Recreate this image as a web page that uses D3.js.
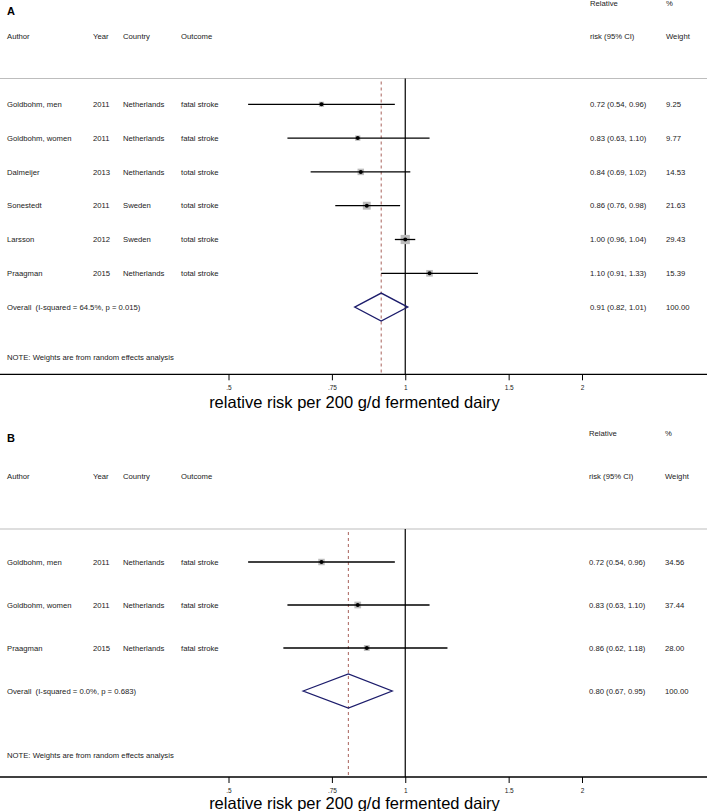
<!DOCTYPE html>
<html lang="en">
<head>
<meta charset="utf-8">
<title>Forest plot: fermented dairy and stroke</title>
<script src="https://cdn.jsdelivr.net/npm/d3@7"></script>
<style>
  body { margin: 0; background: #fff; }
  svg { display: block; }
  .txt { font-family: "Liberation Sans", Arial, Helvetica, sans-serif; font-size: 7.7px; fill: #222; white-space: pre; }
  .panel { font-family: "Liberation Sans", Arial, sans-serif; font-size: 11px; font-weight: bold; fill: #000; }
  .title { font-family: "Liberation Sans", Arial, sans-serif; font-size: 16.5px; fill: #000; text-anchor: middle; }
  .tick text { font-family: "Liberation Sans", Arial, sans-serif; font-size: 6.5px; fill: #222; }
</style>
</head>
<body>
<script>
// ---- data, panel A ----
var authorsA   = ["Goldbohm, men", "Goldbohm, women", "Dalmeijer", "Sonestedt", "Larsson", "Praagman"];
var yearsA     = ["2011", "2011", "2013", "2011", "2012", "2015"];
var countriesA = ["Netherlands", "Netherlands", "Netherlands", "Sweden", "Sweden", "Netherlands"];
var outcomesA  = ["fatal stroke", "fatal stroke", "total stroke", "total stroke", "total stroke", "total stroke"];
var rrA        = [0.72, 0.83, 0.84, 0.86, 1.00, 1.10];
var lowA       = [0.54, 0.63, 0.69, 0.76, 0.96, 0.91];
var highA      = [0.96, 1.10, 1.02, 0.98, 1.04, 1.33];
var weightA    = [9.25, 9.77, 14.53, 21.63, 29.43, 15.39];
var overallA   = [0.91, 0.82, 1.01];
var hetA       = "Overall  (I-squared = 64.5%, p = 0.015)";

// ---- data, panel B ----
var authorsB   = ["Goldbohm, men", "Goldbohm, women", "Praagman"];
var yearsB     = ["2011", "2011", "2015"];
var countriesB = ["Netherlands", "Netherlands", "Netherlands"];
var outcomesB  = ["fatal stroke", "fatal stroke", "fatal stroke"];
var rrB        = [0.72, 0.83, 0.86];
var lowB       = [0.54, 0.63, 0.62];
var highB      = [0.96, 1.10, 1.18];
var weightB    = [34.56, 37.44, 28.00];
var overallB   = [0.80, 0.67, 0.95];
var hetB       = "Overall  (I-squared = 0.0%, p = 0.683)";

var tickVals   = [0.5, 0.75, 1, 1.5, 2];
var tickLabels = [".5", ".75", "1", "1.5", "2"];
var axisTitle  = "relative risk per 200 g/d fermented dairy";
var note       = "NOTE: Weights are from random effects analysis";

var W = 709, H = 811;
var svg = d3.select("body").append("svg").attr("width", W).attr("height", H);

var x = d3.scaleLog().domain([0.5, 2]).range([228.5, 582]);
var fmt = d3.format(".2f");

function panel(o) {
  var g = svg.append("g");
  var n = o.authors.length;
  var y = d3.scaleLinear().domain([0, 1]).range([o.row0, o.row0 + o.step]);

  // header
  g.append("text").attr("class", "panel").attr("x", 7).attr("y", o.labelY).attr("dy", "0.35em").text(o.label);
  var hdr = [["Author", 7], ["Year", 93], ["Country", 123], ["Outcome", 181], ["risk (95% CI)", o.ciX], ["Weight", o.wX]];
  hdr.forEach(function (h) {
    g.append("text").attr("class", "txt").attr("x", h[1]).attr("y", o.hdrY).attr("dy", "0.35em").text(h[0]);
  });
  g.append("text").attr("class", "txt").attr("x", o.ciX).attr("y", o.hdr1Y).attr("dy", "0.35em").text("Relative");
  g.append("text").attr("class", "txt").attr("x", o.wX).attr("y", o.hdr1Y).attr("dy", "0.35em").text("%");

  // separator
  g.append("line").attr("x1", 0).attr("x2", 707).attr("y1", o.sepY).attr("y2", o.sepY)
    .attr("stroke", "#bdbdbd").attr("stroke-width", 1);

  // null line and dashed overall line
  g.append("line").attr("x1", x(1)).attr("x2", x(1)).attr("y1", o.sepY).attr("y2", o.axisY)
    .attr("stroke", "#000").attr("stroke-width", 1.2);
  g.append("line").attr("x1", x(o.overall[0])).attr("x2", x(o.overall[0])).attr("y1", o.sepY + 3).attr("y2", o.axisY)
    .attr("stroke", "#a8615a").attr("stroke-width", 1).attr("stroke-dasharray", "3,3");

  // study rows
  var rows = d3.range(n);
  var cols = [[o.authors, 7], [o.years, 93], [o.countries, 123], [o.outcomes, 181]];
  cols.forEach(function (c) {
    g.selectAll(null).data(rows).enter().append("text").attr("class", "txt")
      .attr("x", c[1]).attr("y", function (i) { return y(i); }).attr("dy", "0.35em")
      .text(function (i) { return c[0][i]; });
  });
  g.selectAll(null).data(rows).enter().append("text").attr("class", "txt")
    .attr("x", o.ciX).attr("y", function (i) { return y(i); }).attr("dy", "0.35em")
    .text(function (i) { return fmt(o.rr[i]) + " (" + fmt(o.low[i]) + ", " + fmt(o.high[i]) + ")"; });
  g.selectAll(null).data(rows).enter().append("text").attr("class", "txt")
    .attr("x", o.wX).attr("y", function (i) { return y(i); }).attr("dy", "0.35em")
    .text(function (i) { return fmt(o.weight[i]); });

  // boxes
  g.selectAll(null).data(rows).enter().append("rect")
    .attr("x", function (i) { return x(o.rr[i]) - o.boxK * Math.sqrt(o.weight[i]) / 2; })
    .attr("y", function (i) { return y(i) - o.boxK * Math.sqrt(o.weight[i]) / 2; })
    .attr("width", function (i) { return o.boxK * Math.sqrt(o.weight[i]); })
    .attr("height", function (i) { return o.boxK * Math.sqrt(o.weight[i]); })
    .attr("fill", "#bdbdbd");
  // CI lines
  g.selectAll(null).data(rows).enter().append("line")
    .attr("x1", function (i) { return x(o.low[i]); })
    .attr("x2", function (i) { return x(o.high[i]); })
    .attr("y1", function (i) { return y(i); })
    .attr("y2", function (i) { return y(i); })
    .attr("stroke", "#000").attr("stroke-width", 1.3);
  g.selectAll(null).data(rows).enter().append("circle")
    .attr("cx", function (i) { return x(o.rr[i]); })
    .attr("cy", function (i) { return y(i); })
    .attr("r", 2).attr("fill", "#000");

  // overall row
  var yo = y(n);
  g.append("text").attr("class", "txt").attr("x", 7).attr("y", yo).attr("dy", "0.35em").text(o.het);
  g.append("text").attr("class", "txt").attr("x", o.ciX).attr("y", yo).attr("dy", "0.35em")
    .text(fmt(o.overall[0]) + " (" + fmt(o.overall[1]) + ", " + fmt(o.overall[2]) + ")");
  g.append("text").attr("class", "txt").attr("x", o.wX).attr("y", yo).attr("dy", "0.35em").text(fmt(100));
  var dh = o.diamondH;
  g.append("path")
    .attr("d", "M" + x(o.overall[1]) + "," + yo +
               "L" + x(o.overall[0]) + "," + (yo - dh) +
               "L" + x(o.overall[2]) + "," + yo +
               "L" + x(o.overall[0]) + "," + (yo + dh) + "Z")
    .attr("fill", "none").attr("stroke", "#1c1c6b").attr("stroke-width", 1.3);

  g.append("text").attr("class", "txt").attr("x", 7).attr("y", o.noteY).attr("dy", "0.35em").text(note);

  // axis
  g.append("line").attr("x1", 0).attr("x2", 707).attr("y1", o.axisY).attr("y2", o.axisY)
    .attr("stroke", "#000").attr("stroke-width", 1.3);
  var ax = g.append("g").attr("transform", "translate(0," + o.axisY + ")")
    .call(d3.axisBottom(x).tickValues(tickVals).tickSize(6).tickPadding(5)
      .tickFormat(function (d, i) { return tickLabels[i]; }));
  ax.select(".domain").remove();
  ax.selectAll(".tick line").attr("stroke", "#000").attr("stroke-width", 1);

  g.append("text").attr("class", "title").attr("x", W / 2).attr("y", o.titleY).attr("dy", "0.35em").text(axisTitle);
}

panel({
  label: "A", labelY: 11, hdr1Y: 3.5, hdrY: 36.5, sepY: 78.5,
  row0: 104.3, step: 33.8, noteY: 357.7, axisY: 374.3, titleY: 402,
  ciX: 590, wX: 666, boxK: 1.7, diamondH: 14,
  authors: authorsA, years: yearsA, countries: countriesA, outcomes: outcomesA,
  rr: rrA, low: lowA, high: highA, weight: weightA, overall: overallA, het: hetA
});

panel({
  label: "B", labelY: 438, hdr1Y: 433, hdrY: 476, sepY: 529,
  row0: 562, step: 43, noteY: 755.7, axisY: 777, titleY: 803,
  ciX: 589, wX: 665, boxK: 1.1, diamondH: 17,
  authors: authorsB, years: yearsB, countries: countriesB, outcomes: outcomesB,
  rr: rrB, low: lowB, high: highB, weight: weightB, overall: overallB, het: hetB
});
</script>
</body>
</html>
